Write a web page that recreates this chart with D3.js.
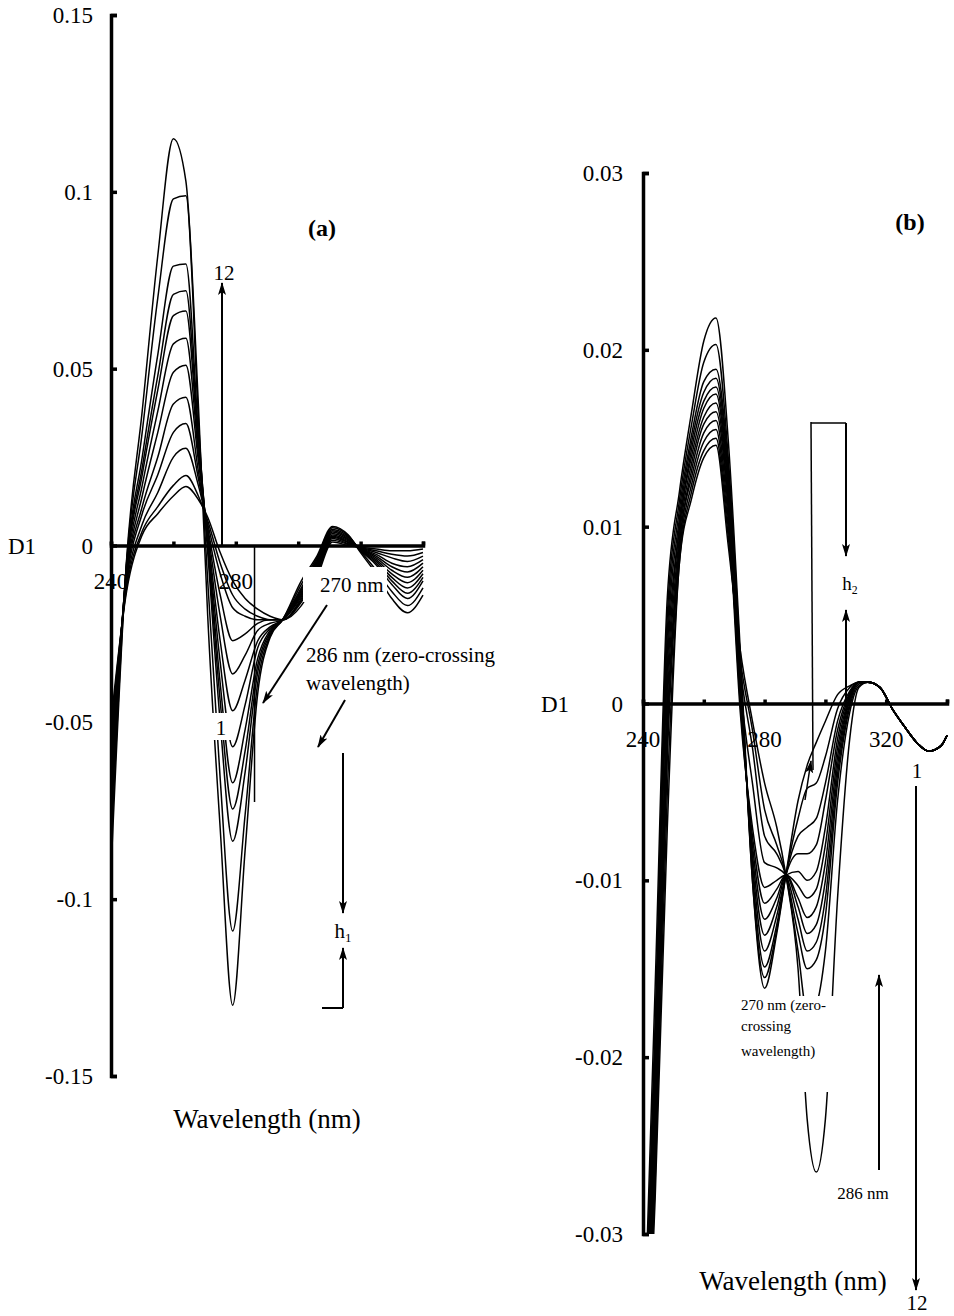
<!DOCTYPE html>
<html>
<head>
<meta charset="utf-8">
<script src="https://cdn.jsdelivr.net/npm/d3@7"></script>
<style>
  body { margin: 0; background: #fff; }
  text { font-family: "Liberation Serif", "Times New Roman", serif; fill: #000; }
</style>
</head>
<body>
<svg id="chart" width="954" height="1316"></svg>
<script>
// ---- data (D1 values in thousandths) ----
const wlA = [240, 245, 250, 255, 260, 264, 268, 271, 275, 279, 283, 287, 291, 295, 301, 306, 311, 316, 320, 325, 330, 335, 340];
const curvesA = [
  [-50, -13, 3, 9, 14, 16.7, 13, 8, -2, -10, -15, -18, -20, -21, -17, -9, 1, 0, -0.5, -1, -1.5, -1.5, -1],
  [-53, -12, 4, 11, 17, 19.8, 14, 7, -5, -14, -18, -20, -21, -21, -16, -8, 1.5, 0.3, -0.6, -1.5, -2.5, -3, -2],
  [-56, -11, 6, 15, 25, 27.5, 17, 6, -8, -17.6, -20, -21, -21, -21, -15.5, -7.5, 2, 0.5, -0.7, -2, -3.5, -4.5, -3],
  [-59, -10, 9, 20, 32, 34.5, 19, 5, -14, -26.9, -25, -22, -21, -21, -15, -7, 2.3, 0.8, -0.8, -2.5, -5, -6, -4],
  [-62, -9, 11, 25, 40, 41.9, 21, 4, -20, -36.3, -31, -24, -22, -21, -14.5, -6.5, 2.6, 1, -0.9, -3, -6, -7.5, -5],
  [-65, -8, 14, 32, 49, 51, 24, 3, -27, -46.7, -38, -27, -23, -21, -14, -6, 3, 1.3, -1, -3.5, -7, -9, -6],
  [-68, -7, 17, 38, 57, 58.6, 26, 2, -33, -56.9, -45, -29, -23.5, -21, -13.5, -5.5, 3.4, 1.6, -1.1, -4, -8, -10.5, -7],
  [-72, -6, 20, 44, 65, 66.3, 28, 1, -39, -67.1, -52, -32, -24, -21, -13, -5, 3.8, 1.9, -1.2, -4.5, -9, -12, -8],
  [-76, -5.5, 22, 48, 71, 72, 30, 0, -44, -74.5, -58, -34, -24.5, -21, -12.5, -4.5, 4.2, 2.2, -1.3, -5, -10, -13.5, -9],
  [-80, -5, 25, 54, 79, 79.6, 32, -2, -50, -83.6, -64, -36, -25, -21, -12, -4, 4.5, 2.5, -1.4, -5.5, -11, -15, -10],
  [-86, -4.5, 32, 70, 98, 98.9, 36, -10, -66, -109, -76, -39, -25.5, -21, -11, -3.5, 5, 2.8, -1.6, -7, -13, -17, -12],
  [-92, -4, 38, 82, 115, 103, 40, -20, -80, -130, -86, -42, -26, -21, -10, -3, 5.4, 3, -2, -8, -15, -19, -14]
];

const wlB = [240, 244, 248, 252, 256, 260, 264, 268, 272, 276, 280, 284, 287, 291, 294, 297, 300, 304, 308, 311];
const curvesB = [
  [-38, -16, 6, 12, 16.5, 20.5, 21.8, 15, 3, -10, -16.1, -13, -9.7, -5.5, -3.5, -2.2, -1, 0.5, 1.0, 1.2],
  [-39, -18, 5, 11.5, 15.8, 19.3, 20.3, 14, 2.5, -10, -15.5, -12.8, -9.7, -6.5, -4.8, -4.5, -3, -0.3, 0.9, 1.2],
  [-40, -19, 4, 11, 15.2, 18.2, 18.9, 13.5, 2, -9.5, -14.9, -12.5, -9.7, -7.5, -7, -6.5, -4.5, -1, 0.7, 1.2],
  [-40, -20, 3, 10.5, 14.8, 17.6, 18.4, 13, 1.5, -9, -14, -12, -9.7, -8.5, -8.5, -8, -5.5, -1.5, 0.6, 1.2],
  [-41, -21, 2, 10, 14.4, 17.1, 17.9, 12.5, 1, -8.5, -13.1, -11.5, -9.7, -9.5, -10, -9.5, -7, -2, 0.5, 1.2],
  [-41, -22, 1, 10, 14, 16.7, 17.5, 12, 0.5, -8, -12.2, -11, -9.7, -10.3, -11, -10.5, -8, -2.5, 0.4, 1.2],
  [-42, -23, 0, 9.5, 13.6, 16.2, 17, 11.5, 0, -7.5, -11.3, -10.5, -9.7, -11, -12.1, -11.5, -9, -3, 0.3, 1.2],
  [-42, -24, -1, 9, 13.2, 15.8, 16.5, 11, -0.5, -7, -10.4, -10, -9.7, -11.5, -13, -12.5, -10, -3.5, 0.2, 1.2],
  [-43, -25, -2, 9, 12.8, 15.3, 16, 10.5, 1, -4.5, -9, -9.3, -9.7, -12.2, -14, -13.5, -11, -4, 0, 1.2],
  [-43, -26, -3, 8.5, 12.4, 14.8, 15.5, 10, 2, -2.5, -7.5, -8.5, -9.7, -13, -15, -14.5, -12, -4.5, -0.2, 1.1],
  [-44, -27, -5, 8, 12, 14.3, 15, 9.5, 2.5, -1.5, -6, -8, -9.7, -14, -17.5, -17, -14, -5.5, -0.5, 1.0],
  [-45, -28, -7, 8, 11.6, 13.9, 14.6, 9, 3, -1, -4.5, -7, -9.7, -15, -23.5, -26.5, -23.5, -11, -2, 0.9]
];
// all (b) curves run together past 311 nm
const tailWlB = [314, 318, 322, 326, 330, 334, 338, 340];
const tailB = [1.2, 0.9, -0.3, -1.3, -2.2, -2.7, -2.4, -1.8];

const xTicks = [240, 260, 280, 300, 320, 340];
const xLabelsA = [240, 280];
const xLabelsB = [240, 280, 320];
const yTicksA = [0.15, 0.1, 0.05, 0, -0.05, -0.1, -0.15];
const yLabelsA = ["0.15", "0.1", "0.05", "0", "-0.05", "-0.1", "-0.15"];
const yTicksB = [0.03, 0.02, 0.01, 0, -0.01, -0.02, -0.03];
const yLabelsB = ["0.03", "0.02", "0.01", "0", "-0.01", "-0.02", "-0.03"];

// ---- scales ----
const xA = d3.scaleLinear().domain([240, 340]).range([111, 423]);
const yA = d3.scaleLinear().domain([-0.15, 0.15]).range([1076, 15]);
const xB = d3.scaleLinear().domain([240, 340]).range([643, 947]);
const yB = d3.scaleLinear().domain([-0.03, 0.03]).range([1234, 173]);

const svg = d3.select("#chart");

svg.append("defs").append("marker")
  .attr("id", "arrow")
  .attr("viewBox", "0 -6 13 12")
  .attr("refX", 12).attr("refY", 0)
  .attr("markerWidth", 13).attr("markerHeight", 12)
  .attr("markerUnits", "userSpaceOnUse")
  .attr("orient", "auto")
  .append("path")
  .attr("d", "M0,-4L13,0L0,4L3,0Z")
  .attr("fill", "#000");

svg.select("defs").append("clipPath").attr("id", "clipB")
  .append("rect")
  .attr("x", 600).attr("y", yB(0.03))
  .attr("width", 354).attr("height", yB(-0.03) - yB(0.03));

function drawCurves(g, curves, wl, x, y, tailWl, tailVals) {
  const line = d3.line()
    .x(d => x(d[0]))
    .y(d => y(d[1] / 1000))
    .curve(d3.curveMonotoneX);
  g.selectAll("path.spec")
    .data(curves)
    .enter()
    .append("path")
    .attr("class", "spec")
    .attr("d", c => {
      let pts = wl.map((w, i) => [w, c[i]]);
      if (tailWl) pts = pts.concat(tailWl.map((w, i) => [w, tailVals[i]]));
      return line(pts);
    })
    .attr("fill", "none")
    .attr("stroke", "#000")
    .attr("stroke-width", 1.5)
    .attr("stroke-linejoin", "round");
}

function whiteBox(x0, y0, x1, y1) {
  svg.append("rect")
    .attr("x", x0).attr("y", y0)
    .attr("width", x1 - x0).attr("height", y1 - y0)
    .attr("fill", "#fff");
}

function drawAxes(x, y, yTicks, yLabels, xLabels, labelX) {
  const yAxis = svg.append("g")
    .attr("transform", `translate(${x.range()[0]},0)`)
    .call(d3.axisRight(y).tickValues(yTicks).tickSize(6).tickFormat(""));
  const xAxis = svg.append("g")
    .attr("transform", `translate(0,${y(0)})`)
    .call(d3.axisTop(x).tickValues(xTicks).tickSize(4).tickFormat(""));
  [yAxis, xAxis].forEach(a => {
    a.selectAll(".domain, .tick line")
      .attr("stroke", "#000")
      .attr("stroke-width", 3.5);
  });

  svg.append("g").selectAll("text")
    .data(yTicks)
    .enter()
    .append("text")
    .attr("x", labelX)
    .attr("y", d => y(d))
    .attr("dy", "0.35em")
    .attr("text-anchor", "end")
    .style("font-size", "23px")
    .text((d, i) => yLabels[i]);

  svg.append("g").selectAll("text")
    .data(xLabels)
    .enter()
    .append("text")
    .attr("x", d => x(d))
    .attr("y", y(0) + 43)
    .attr("text-anchor", "middle")
    .style("font-size", "23px")
    .text(d => d);
}

function label(x, y, txt, size, opts = {}) {
  return svg.append("text")
    .attr("x", x).attr("y", y)
    .attr("text-anchor", opts.anchor || "start")
    .style("font-size", size + "px")
    .style("font-weight", opts.bold ? "bold" : null)
    .text(txt);
}

function seg(x1, y1, x2, y2, w, arrow) {
  const l = svg.append("line")
    .attr("x1", x1).attr("y1", y1).attr("x2", x2).attr("y2", y2)
    .attr("stroke", "#000").attr("stroke-width", w);
  if (arrow) l.attr("marker-end", "url(#arrow)");
  return l;
}

function hLabel(x, y, sub, size) {
  const t = svg.append("text").attr("x", x).attr("y", y)
    .attr("text-anchor", "middle").style("font-size", size + "px");
  t.append("tspan").text("h");
  t.append("tspan").attr("dy", 4).style("font-size", (size * 0.62) + "px").text(sub);
}

// ================= panel (a) =================
drawCurves(svg.append("g"), curvesA, wlA, xA, yA);

whiteBox(208, 713, 232, 740);   // behind "1"
whiteBox(303, 567, 387, 602);   // behind "270 nm"

drawAxes(xA, yA, yTicksA, yLabelsA, xLabelsA, 93);
label(8, yA(0) + 8, "D1", 23);
label(xA(290), 1128, "Wavelength (nm)", 27, { anchor: "middle" });
label(322, 236, "(a)", 24, { bold: true, anchor: "middle" });

// order arrow 1 -> 12
seg(222, yA(0), 222, 283, 2, true);
label(224, 280, "12", 21, { anchor: "middle" });
label(221, 735, "1", 21, { anchor: "middle" });

// 286 nm marker line
seg(xA(286), yA(0), xA(286), 802, 1.5);

label(320, 592, "270 nm", 21);
label(306, 662, "286 nm (zero-crossing", 21);
label(306, 690, "wavelength)", 21);
seg(327, 605, 263, 703, 2, true);
seg(345, 700, 318, 747, 2, true);

// h1
seg(343, 753, 343, 913, 2, true);
hLabel(343, 938, "1", 21);
seg(343, 1008, 343, 948, 2, true);
seg(322, 1008, 343, 1008, 2);

// ================= panel (b) =================
drawCurves(svg.append("g").attr("clip-path", "url(#clipB)"), curvesB, wlB, xB, yB, tailWlB, tailB);

whiteBox(737, 996, 840, 1092);   // behind the 270 nm note

drawAxes(xB, yB, yTicksB, yLabelsB, xLabelsB, 623);
label(541, yB(0) + 8, "D1", 23);
label(793, 1290, "Wavelength (nm)", 27, { anchor: "middle" });
label(910, 230, "(b)", 24, { bold: true, anchor: "middle" });

// h2 bracket
seg(811, 422, 813, 770, 1.5);
seg(811, 423, 846, 423, 1.5);
seg(846, 423, 846, 556, 2, true);
hLabel(850, 590, "2", 19);
seg(846, yB(0), 846, 610, 2, true);
seg(805, 800, 811, 761, 1.5, true);

// order arrow 1 -> 12
label(917, 778, "1", 21, { anchor: "middle" });
seg(916, 786, 916, 1290, 2, true);
label(917, 1310, "12", 21, { anchor: "middle" });

// 286 nm arrow
seg(879, 1170, 879, 975, 2, true);
label(863, 1199, "286 nm", 17, { anchor: "middle" });

label(741, 1010, "270 nm (zero-", 15);
label(741, 1031, "crossing", 15);
label(741, 1056, "wavelength)", 15);
</script>
</body>
</html>
